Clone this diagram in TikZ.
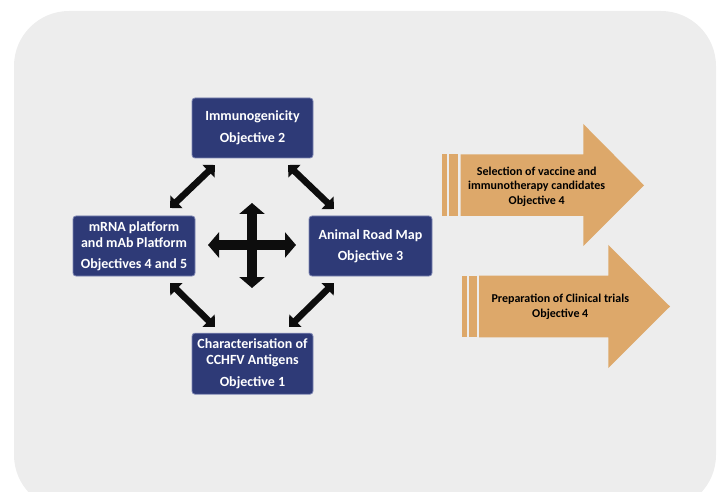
\documentclass[tikz,border=0pt]{standalone}
\usepackage{fontspec}
\setmainfont{Carlito}
\usetikzlibrary{arrows.meta}
\definecolor{bg}{RGB}{237,237,237}
\definecolor{navy}{RGB}{46,58,119}
\definecolor{navyedge}{RGB}{125,133,178}
\definecolor{ochre}{RGB}{221,168,106}
\definecolor{ink}{RGB}{13,13,13}
\begin{document}
\begin{tikzpicture}[x=1pt,y=-1pt,
 objbox/.style={fill=navy, draw=navyedge, line width=0.8pt, rounded corners=3pt, text=white,
   font=\fontsize{14}{16}\selectfont\bfseries, align=center, inner sep=0pt,
   minimum width=121pt, minimum height=60pt},
 link/.style={ink, line width=6.5pt, {Triangle[width=17pt,length=9pt]}-{Triangle[width=17pt,length=9pt]}},
 crossarrow/.style={ink, line width=10pt, {Triangle[width=25pt,length=11pt]}-{Triangle[width=25pt,length=11pt]}},
 band/.style={fill=ochre},
 steplabel/.style={font=\fontsize{12}{14.5}\selectfont\bfseries, align=center, text=black}
]
\useasboundingbox (0,0) rectangle (721,492);
\begin{scope}
\clip (0,0) rectangle (721,492);
\fill[bg, rounded corners=55pt] (14,11) rectangle (716,510);
\end{scope}

% objective boxes
\node[objbox] (imm) at (252.5,128) {Immunogenicity\\[5.5pt]Objective 2};
\node[objbox, minimum width=122pt] (mrna) at (134,246) {mRNA platform\\and mAb Platform\\[5pt]Objectives 4 and 5};
\node[objbox, minimum width=123pt] (anim) at (370.5,246) {Animal Road Map\\[5pt]Objective 3};
\node[objbox, minimum height=61pt] (char) at (252.5,363.7) {Characterisation of\\CCHFV Antigens\\[5.5pt]Objective 1};

% diagonal double arrows
\coordinate (tla) at (215,165); \coordinate (tlb) at (170,208);
\coordinate (tra) at (288,165); \coordinate (trb) at (334,209);
\coordinate (bla) at (170,283); \coordinate (blb) at (215,327);
\coordinate (bra) at (334,283); \coordinate (brb) at (289,327);
\draw[link] (tla) -- (tlb);
\draw[link] (tra) -- (trb);
\draw[link] (bla) -- (blb);
\draw[link] (bra) -- (brb);

% central cross
\coordinate (cw) at (208,245); \coordinate (ce) at (296,245);
\coordinate (cn) at (252,203); \coordinate (cs) at (252,288);
\draw[crossarrow] (cw) -- (ce);
\draw[crossarrow] (cn) -- (cs);

% orange arrow 1
\fill[band] (441.7,154.3) rectangle (446.7,216);
\fill[band] (449,154.3) rectangle (457.7,216);
\fill[band] (460.7,154.3) -- (583.3,154.3) -- (583.3,124) -- (644,185.3) -- (583.3,246) -- (583.3,216) -- (460.7,216) -- cycle;
\node[steplabel] (sel) at (536.7,186.5) {Selection of vaccine and\\immunotherapy candidates\\Objective 4};

% orange arrow 2
\fill[band] (462.3,275.7) rectangle (466.7,337.3);
\fill[band] (469.3,275.7) rectangle (477.3,337.3);
\fill[band] (479,275.7) -- (608.3,275.7) -- (608.3,245) -- (670,306.5) -- (608.3,368) -- (608.3,337.3) -- (479,337.3) -- cycle;
\node[steplabel] (prep) at (560.3,306.7) {Preparation of Clinical trials\\Objective 4};
\end{tikzpicture}
\end{document}
